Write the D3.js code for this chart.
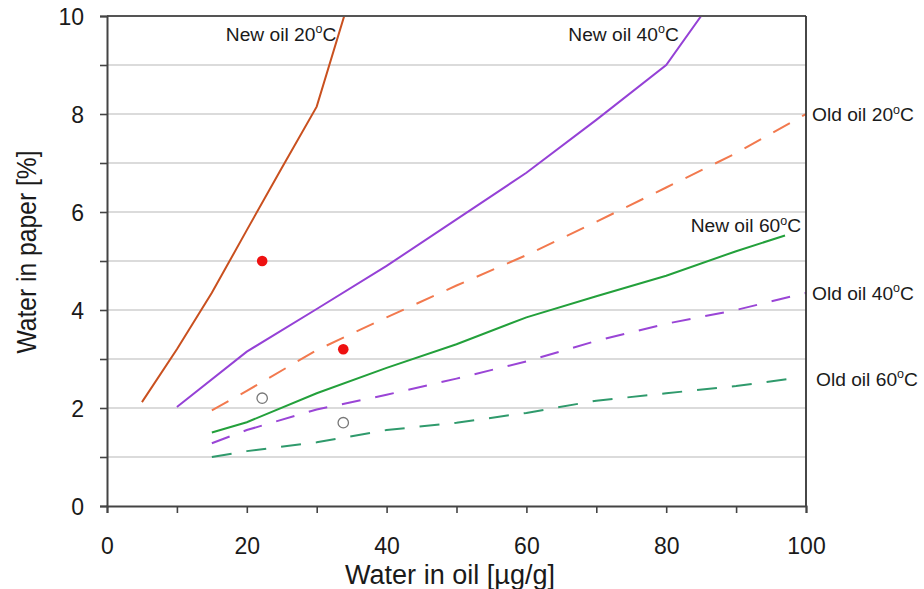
<!DOCTYPE html>
<html>
<head>
<meta charset="utf-8">
<script src="https://cdn.jsdelivr.net/npm/d3@7"></script>
<style>
  html, body { margin: 0; padding: 0; background: #fff; }
  svg { display: block; font-family: "Liberation Sans", Arial, sans-serif; }
</style>
</head>
<body>
<svg id="chart" width="924" height="589"></svg>
<script>
// Water content equilibrium curves: water in oil (µg/g) vs water in paper (%)
const newOil20X = [5, 10, 15, 20, 25, 30, 35];
const newOil20Y = [2.12, 3.2, 4.35, 5.63, 6.9, 8.15, 10.5];
const newOil40X = [10, 20, 30, 40, 50, 60, 70, 80, 85];
const newOil40Y = [2.02, 3.15, 4.02, 4.9, 5.85, 6.8, 7.88, 9.0, 10.0];
const newOil60X = [15, 20, 30, 40, 50, 60, 70, 80, 90, 97];
const newOil60Y = [1.5, 1.71, 2.3, 2.82, 3.3, 3.85, 4.28, 4.7, 5.2, 5.52];
const oldOil20X = [15, 20, 30, 40, 50, 60, 70, 80, 90, 100];
const oldOil20Y = [1.95, 2.35, 3.18, 3.85, 4.5, 5.12, 5.8, 6.5, 7.2, 8.0];
const oldOil40X = [15, 20, 30, 40, 50, 60, 70, 80, 90, 100];
const oldOil40Y = [1.28, 1.55, 1.97, 2.27, 2.6, 2.95, 3.37, 3.72, 4.0, 4.35];
const oldOil60X = [15, 20, 30, 40, 50, 60, 70, 80, 90, 98];
const oldOil60Y = [1.0, 1.12, 1.3, 1.55, 1.7, 1.9, 2.15, 2.3, 2.45, 2.6];

// Measured samples
const filledSampleX = [22.2, 33.8];
const filledSampleY = [5.0, 3.2];
const openSampleX = [22.2, 33.8];
const openSampleY = [2.2, 1.7];

const xTickValues = [0, 10, 20, 30, 40, 50, 60, 70, 80, 90, 100];
const xTickLabels = [0, 20, 40, 60, 80, 100];
const yTickValues = [0, 1, 2, 3, 4, 5, 6, 7, 8, 9, 10];
const yTickLabels = [0, 2, 4, 6, 8, 10];

const series = [
  { name: "New oil 20", xs: newOil20X, ys: newOil20Y, color: "#c9501f", dash: null },
  { name: "New oil 40", xs: newOil40X, ys: newOil40Y, color: "#9541d6", dash: null },
  { name: "Old oil 20", xs: oldOil20X, ys: oldOil20Y, color: "#f2794e", dash: "19,14" },
  { name: "New oil 60", xs: newOil60X, ys: newOil60Y, color: "#23a03b", dash: null },
  { name: "Old oil 40", xs: oldOil40X, ys: oldOil40Y, color: "#9a45d6", dash: "19,15" },
  { name: "Old oil 60", xs: oldOil60X, ys: oldOil60Y, color: "#2f9a6c", dash: "20,15" }
];

const svg = d3.select("#chart");
const plotL = 107, plotR = 806, plotT = 16, plotB = 506;

const x = d3.scaleLinear().domain([0, 100]).range([plotL, plotR]);
const y = d3.scaleLinear().domain([0, 10]).range([plotB, plotT]);

svg.append("defs").append("clipPath").attr("id", "plotClip")
  .append("rect").attr("x", plotL).attr("y", plotT)
  .attr("width", plotR - plotL).attr("height", plotB - plotT);

// horizontal grid
svg.append("g").selectAll("line")
  .data(yTickValues.filter(v => v > 0 && v < 10))
  .join("line")
  .attr("x1", plotL).attr("x2", plotR)
  .attr("y1", d => y(d)).attr("y2", d => y(d))
  .attr("stroke", "#cfcfcf").attr("stroke-width", 1.6);

// curve labels with a superscript "o" before C
function degLabel(g, txt, xp, yp) {
  const t = g.append("text")
    .attr("x", xp).attr("y", yp)
    .attr("font-size", 19.2).attr("fill", "#1a1a1a");
  t.append("tspan").text(txt);
  t.append("tspan").text("o").attr("font-size", 12.5).attr("dy", -7.5);
  t.append("tspan").text("C").attr("dy", 7.5);
  return t;
}

const innerLabels = [
  { text: "New oil 20", xv: 17.0, yv: 9.49 },
  { text: "New oil 40", xv: 66.0, yv: 9.49 },
  { text: "New oil 60", xv: 83.5, yv: 5.59 }
];
const bgLayer = svg.append("g");
const lineLayer = svg.append("g").attr("clip-path", "url(#plotClip)");
const labelLayer = svg.append("g");

innerLabels.forEach(l => {
  const t = degLabel(labelLayer, l.text, x(l.xv), y(l.yv));
  const bb = t.node().getBBox();
  bgLayer.append("rect")
    .attr("x", bb.x - 2).attr("y", bb.y + 2)
    .attr("width", bb.width + 2).attr("height", bb.height - 4)
    .attr("fill", "#fff");
});

// curves
const line = d3.line().x(d => x(d[0])).y(d => y(d[1]));
series.forEach(s => {
  const pts = s.xs.map((v, i) => [v, s.ys[i]]);
  lineLayer.append("path")
    .attr("d", line(pts))
    .attr("fill", "none")
    .attr("stroke", s.color)
    .attr("stroke-width", 2)
    .attr("stroke-dasharray", s.dash);
});

// old oil labels at the right end of their curves
series.filter(s => s.name.startsWith("Old")).forEach(s => {
  const last = s.ys[s.ys.length - 1];
  degLabel(labelLayer, s.name, x(100) + 6 + (s.name === "Old oil 60" ? 4 : 0), y(last) + 7);
});

// samples
svg.append("g").selectAll("circle")
  .data(filledSampleX.map((v, i) => [v, filledSampleY[i]]))
  .join("circle")
  .attr("cx", d => x(d[0])).attr("cy", d => y(d[1])).attr("r", 5.3)
  .attr("fill", "#ee1111");
svg.append("g").selectAll("circle")
  .data(openSampleX.map((v, i) => [v, openSampleY[i]]))
  .join("circle")
  .attr("cx", d => x(d[0])).attr("cy", d => y(d[1])).attr("r", 5.2)
  .attr("fill", "#fff").attr("stroke", "#777").attr("stroke-width", 1.3);

// frame
svg.append("line").attr("x1", plotL).attr("x2", plotR).attr("y1", plotT).attr("y2", plotT)
  .attr("stroke", "#555").attr("stroke-width", 1.8);
svg.append("line").attr("x1", plotR).attr("x2", plotR).attr("y1", plotT).attr("y2", plotB)
  .attr("stroke", "#333").attr("stroke-width", 1.8);

// axes
const xAxis = d3.axisBottom(x).tickValues(xTickValues).tickSize(7)
  .tickFormat(d => xTickLabels.includes(d) ? d : "");
const gx = svg.append("g").attr("transform", `translate(0,${plotB})`).call(xAxis);
gx.select(".domain").attr("stroke", "#444").attr("stroke-width", 2);
gx.selectAll(".tick line").attr("stroke", "#444").attr("stroke-width", 1.6);
gx.selectAll(".tick text").attr("font-size", 23).attr("fill", "#1a1a1a")
  .attr("font-family", "Liberation Sans, Arial, sans-serif").attr("dy", 0).attr("y", 48);

const yAxis = d3.axisLeft(y).tickValues(yTickValues).tickSize(7)
  .tickFormat(d => yTickLabels.includes(d) ? d : "");
const gy = svg.append("g").attr("transform", `translate(${plotL},0)`).call(yAxis);
gy.select(".domain").attr("stroke", "#444").attr("stroke-width", 2);
gy.selectAll(".tick line").attr("stroke", "#444").attr("stroke-width", 1.6);
gy.selectAll(".tick text").attr("font-size", 23).attr("fill", "#1a1a1a")
  .attr("font-family", "Liberation Sans, Arial, sans-serif").attr("x", -23).attr("dy", "0.36em");

// axis titles
svg.append("text")
  .attr("x", 450).attr("y", 584)
  .attr("text-anchor", "middle")
  .attr("font-size", 27).attr("fill", "#1a1a1a")
  .attr("textLength", 210).attr("lengthAdjust", "spacingAndGlyphs")
  .text("Water in oil [µg/g]");
svg.append("text")
  .attr("transform", "translate(36,252) rotate(-90)")
  .attr("text-anchor", "middle")
  .attr("font-size", 27).attr("fill", "#1a1a1a")
  .attr("textLength", 203).attr("lengthAdjust", "spacingAndGlyphs")
  .text("Water in paper [%]");
</script>
</body>
</html>
